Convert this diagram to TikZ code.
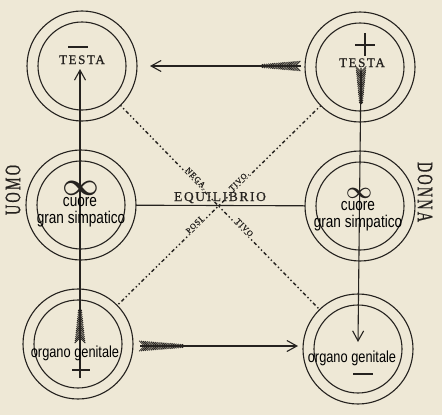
\documentclass[tikz,border=0pt]{standalone}
\usepackage{graphicx}
\usepackage{fontspec}
\setmainfont{Liberation Serif}
\newfontfamily\overfont[FakeStretch=0.8]{Liberation Sans}
\newfontfamily\oldfont[LetterSpace=12,FakeBold=0.8]{Liberation Serif}
\newfontfamily\labfont[LetterSpace=10,FakeBold=1.2]{Liberation Serif}
\newfontfamily\sidefont[LetterSpace=15,FakeBold=0.8]{Liberation Serif}
\usetikzlibrary{arrows.meta}
\definecolor{paper}{HTML}{EEE8D6}
\definecolor{ink}{HTML}{25221F}
\newcommand{\fletching}[4]{%
  \begin{scope}[shift={(#1,#2)},rotate=#3]
    \foreach \t in {0,1.8,...,#4}{%
      \pgfmathsetmacro{\w}{1.8+3.5*\t/#4}%
      \draw[ink,line width=0.8pt] (\t,0) -- ({\t+\w},{\w}) (\t,0) -- ({\t+\w},{-\w});
    }
    \draw[ink,line width=1.8pt] (0,0) -- (#4,0);
  \end{scope}}
\begin{document}
\begin{tikzpicture}[x=1pt,y=-1pt,
  ring/.style={circle,draw=ink,line width=1.1pt,minimum size=110pt,inner sep=0pt,outer sep=0pt},
  inring/.style={ring,minimum size=88pt},
  wire/.style={draw=ink,line width=1.1pt},
  arr/.style={wire,-{Straight Barb[length=10pt,width=11pt]}},
  diag/.style={draw=ink,line width=1.4pt,dash pattern=on 1.4pt off 2.6pt on 1.4pt off 2.6pt on 3.5pt off 2.6pt},
  overtext/.style={font=\overfont\fontsize{17}{17}\selectfont,text=black,inner sep=0pt,anchor=base},
  caps/.style={font=\oldfont\fontsize{13}{13}\selectfont,text=ink,inner sep=0pt,anchor=base},
  side/.style={font=\sidefont\fontsize{22}{22}\selectfont,text=ink,inner sep=0pt},
  diaglab/.style={font=\labfont\fontsize{8}{8}\selectfont,text=ink,fill=paper,inner sep=0.5pt,sloped,anchor=south},
  inf/.style={text=ink,inner sep=0pt}]
\fill[paper] (0,0) rectangle (442,415);
\useasboundingbox (0,0) rectangle (442,415);

% rings
\node[ring] (tl) at (82,66) {};
\node[inring] (tli) at (82,66) {};
\node[ring] (tr) at (360,67) {};
\node[inring] (tri) at (360,67) {};
\node[ring] (ml) at (81,205) {};
\node[inring] (mli) at (81,205) {};
\node[ring] (mr) at (360,206) {};
\node[inring] (mri) at (360,206) {};
\node[ring] (bl) at (78,344) {};
\node[inring] (bli) at (78,344) {};
\node[ring] (br) at (358,349) {};
\node[inring] (bri) at (358,349) {};

% diagonals
\draw[diag] (tl) -- (br);
\draw[diag] (tr) -- (bl);

% equilibrium line
\draw[wire] (ml) -- (mr);

% vertical arrows
\coordinate (lbot) at (80,378);
\coordinate (ltop) at (80,69);
\draw[arr] (lbot) -- (ltop);
\coordinate (rtop) at (361,68);
\coordinate (rbot) at (358,342);
\draw[arr] (rtop) -- (rbot);

% horizontal arrows
\coordinate (ttail) at (301,66);
\coordinate (thead) at (150,66);
\draw[arr] (ttail) -- (thead);
\coordinate (btail) at (140,346);
\coordinate (bhead) at (298,346);
\draw[arr] (btail) -- (bhead);

% fletchings
\fletching{80}{309}{-90}{29}
\fletching{361}{104}{90}{33}
\fletching{261}{66}{0}{36}
\fletching{184}{346}{180}{40}

% signs
\draw[wire] (68,47) -- (88,47);
\draw[wire] (365,33) -- (365,56) (355,45) -- (375,45);
\draw[wire] (72,370) -- (90,370);
\draw[wire] (353,374) -- (373,374);

% TESTA
\node[caps] (testal) at (82,64) {TESTA};
\node[caps] (testar) at (362,67) {TESTA};

% infinity
\node[inf] (infl) at (81,188) {\scalebox{3.2}{\boldmath$\infty$}};
\node[inf] (infr) at (359,193) {\scalebox{2.3}{\boldmath$\infty$}};

% overlay labels
\node[overtext] (cuorel) at (80,206) {cuore};
\node[overtext] (gsl) at (81,223) {gran simpatico};
\node[overtext] (cuorer) at (358,210) {cuore};
\node[overtext] (gsr) at (358,227) {gran simpatico};
\node[overtext,font=\overfont\fontsize{16}{16}\selectfont] (ogl) at (75,357) {organo genitale};
\node[overtext,font=\overfont\fontsize{16}{16}\selectfont] (ogr) at (352,362) {organo genitale};

% EQUILIBRIO
\node[caps,font=\oldfont\fontsize{13.5}{13.5}\selectfont] (equi) at (220,201) {EQUILIBRIO};

% diagonal labels
\path (tl) -- (br) node[diaglab,pos=0.37] (neg1) {NEGA.} node[diaglab,pos=0.61] (neg2) {TIVO};
\path (tr) -- (bl) node[diaglab,pos=0.39] (pos2) {TIVO.} node[diaglab,pos=0.61] (pos1) {POSI};

% side words
\node[side,rotate=90] (uomo) at (13,190) {\scalebox{0.65}[1]{UOMO}};
\node[side,rotate=-90] (donna) at (425,192) {\scalebox{0.65}[1]{DONNA}};
\end{tikzpicture}
\end{document}
